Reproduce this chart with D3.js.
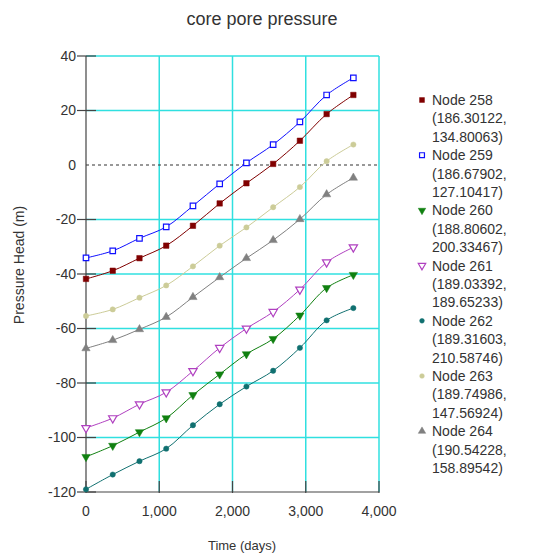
<!DOCTYPE html>
<html>
<head>
<meta charset="utf-8">
<script src="https://cdn.jsdelivr.net/npm/d3@7"></script>
<style>
  body { margin: 0; background: #fff; }
  text { font-family: "Liberation Sans", Arial, sans-serif; fill: #333; }
</style>
</head>
<body>
<svg id="chart" width="534" height="554"></svg>
<script>
// time axis (days), one reading per year
const days = [0, 365, 730, 1095, 1460, 1825, 2190, 2555, 2920, 3285, 3650]

const node258 = [-41.8, -38.8, -34.2, -29.6, -22.3, -14.1, -6.7, 0.4, 8.9, 18.7, 25.7]
const node259 = [-34.1, -31.5, -26.9, -22.7, -15.0, -6.9, 0.8, 7.5, 15.8, 25.7, 32.0]
const node260 = [-107.1, -103.0, -98.0, -92.9, -84.4, -76.8, -69.4, -63.8, -55.2, -45.1, -40.3]
const node261 = [-96.5, -92.9, -87.8, -83.4, -75.6, -67.1, -60.0, -53.9, -45.7, -35.7, -30.2]
const node262 = [-119.0, -113.6, -108.7, -104.1, -95.5, -87.8, -81.3, -75.5, -67.1, -57.0, -52.5]
const node263 = [-55.4, -53.0, -48.7, -44.2, -37.2, -29.6, -22.9, -15.5, -8.1, 1.4, 7.5]
const node264 = [-67.3, -64.3, -60.3, -55.8, -48.5, -41.2, -34.2, -27.6, -19.9, -10.8, -4.7]

const nodeNames = ['Node 258', 'Node 259', 'Node 260', 'Node 261', 'Node 262', 'Node 263', 'Node 264']
const nodeCoords = [
  ['(186.30122,', '134.80063)'],
  ['(186.67902,', '127.10417)'],
  ['(188.80602,', '200.33467)'],
  ['(189.03392,', '189.65233)'],
  ['(189.31603,', '210.58746)'],
  ['(189.74986,', '147.56924)'],
  ['(190.54228,', '158.89542)']
]

const xTicks = [0, 1000, 2000, 3000, 4000]
const yTicks = [40, 20, 0, -20, -40, -60, -80, -100, -120]

// marker style per series
const styles = [
  { color: '#800000', symbol: d3.symbolSquare, open: false, rot: 0 },
  { color: '#1010ff', symbol: d3.symbolSquare, open: true, rot: 0 },
  { color: '#108010', symbol: d3.symbolTriangle, open: false, rot: 180 },
  { color: '#b040c0', symbol: d3.symbolTriangle, open: true, rot: 180 },
  { color: '#107070', symbol: d3.symbolCircle, open: false, rot: 0 },
  { color: '#cccc98', symbol: d3.symbolCircle, open: false, rot: 0 },
  { color: '#808080', symbol: d3.symbolTriangle, open: false, rot: 0 }
]

const seriesValues = [node258, node259, node260, node261, node262, node263, node264]
const series = seriesValues.map((vals, i) => ({
  name: nodeNames[i],
  style: styles[i],
  points: vals.map((v, j) => ({ x: days[j], y: v }))
}))

const svg = d3.select('#chart')
const plotLeft = 86, plotRight = 379, plotTop = 56, plotBottom = 492

const x = d3.scaleLinear().domain([0, 4000]).range([plotLeft, plotRight])
const y = d3.scaleLinear().domain([-120, 40]).range([plotBottom, plotTop])

// title
svg.append('text')
  .attr('x', 262).attr('y', 25)
  .attr('text-anchor', 'middle')
  .style('font-size', '18px')
  .text('core pore pressure')

/* ------- GRID ------- */
const grid = svg.append('g')
grid.selectAll('line.h')
  .data(yTicks.filter(t => t !== 0 && t !== -120))
  .enter().append('line')
  .attr('x1', plotLeft).attr('x2', plotRight)
  .attr('y1', d => y(d)).attr('y2', d => y(d))
  .style('stroke', '#30e0e0').style('stroke-width', 1.5)

grid.selectAll('line.v')
  .data(xTicks.filter(t => t !== 0))
  .enter().append('line')
  .attr('x1', d => x(d)).attr('x2', d => x(d))
  .attr('y1', plotTop).attr('y2', plotBottom)
  .style('stroke', '#30e0e0').style('stroke-width', 1.5)

// zero line
svg.append('line')
  .attr('x1', plotLeft).attr('x2', plotRight)
  .attr('y1', y(0)).attr('y2', y(0))
  .style('stroke', '#333').style('stroke-width', 1.2)
  .style('stroke-dasharray', '3,3')

/* ------- AXES ------- */
const axes = svg.append('g').style('stroke', '#444').style('stroke-width', 1.2)
axes.append('line').attr('x1', plotLeft).attr('x2', plotLeft).attr('y1', plotTop).attr('y2', plotBottom)
axes.append('line').attr('x1', plotLeft).attr('x2', plotRight).attr('y1', plotBottom).attr('y2', plotBottom)

axes.selectAll('line.yt')
  .data(yTicks.filter(t => t !== 0))
  .enter().append('line')
  .attr('x1', plotLeft - 9).attr('x2', plotLeft + 10)
  .attr('y1', d => y(d)).attr('y2', d => y(d))

axes.selectAll('line.xt')
  .data(xTicks)
  .enter().append('line')
  .attr('x1', d => x(d)).attr('x2', d => x(d))
  .attr('y1', plotBottom - 11).attr('y2', plotBottom + 1)

svg.selectAll('text.ytl')
  .data(yTicks)
  .enter().append('text')
  .attr('x', plotLeft - 10).attr('y', d => y(d))
  .attr('dy', '0.35em')
  .attr('text-anchor', 'end')
  .style('font-size', '14px')
  .text(d => d)

const fmt = d3.format(',')
svg.selectAll('text.xtl')
  .data(xTicks)
  .enter().append('text')
  .attr('x', d => x(d)).attr('y', plotBottom + 19)
  .attr('dy', '0.35em')
  .attr('text-anchor', 'middle')
  .style('font-size', '14px')
  .text(d => fmt(d))

svg.append('text')
  .attr('x', 242).attr('y', 545)
  .attr('dy', '0.35em')
  .attr('text-anchor', 'middle')
  .style('font-size', '13px')
  .text('Time (days)')

svg.append('text')
  .attr('transform', 'translate(19,265) rotate(-90)')
  .attr('dy', '0.35em')
  .attr('text-anchor', 'middle')
  .style('font-size', '14px')
  .text('Pressure Head (m)')

/* ------- LINES + MARKERS ------- */
const line = d3.line()
  .x(d => x(d.x))
  .y(d => y(d.y))
  .curve(d3.curveCatmullRom)

function marker(sel, st, scale) {
  const base = st.symbol === d3.symbolCircle ? 22 : 30
  sel.attr('d', d3.symbol().type(st.symbol).size(base * (scale || 1)))
    .style('fill', st.open ? '#fff' : st.color)
    .style('stroke', st.color)
    .style('stroke-width', st.open ? 1.2 : 0.5)
}

const plot = svg.append('g')
series.forEach(s => {
  plot.append('path')
    .datum(s.points)
    .attr('d', line)
    .style('fill', 'none')
    .style('stroke', s.style.color)
    .style('stroke-width', 1)

  plot.selectAll(null)
    .data(s.points)
    .enter().append('path')
    .attr('transform', d => `translate(${x(d.x)},${y(d.y)}) rotate(${s.style.rot})`)
    .call(marker, s.style)
})

/* ------- LEGEND ------- */
const lineH = 18.4
const legend = svg.append('g')
series.forEach((s, i) => {
  const y0 = 100 + i * 3 * lineH
  legend.append('path')
    .attr('transform', `translate(422,${y0}) rotate(${s.style.rot})`)
    .call(marker, s.style, 0.8)
  const lines = [s.name, nodeCoords[i][0], nodeCoords[i][1]]
  lines.forEach((t, k) => {
    legend.append('text')
      .attr('x', 432).attr('y', y0 + k * lineH)
      .attr('dy', '0.35em')
      .style('font-size', '14px')
      .text(t)
  })
})
</script>
</body>
</html>
